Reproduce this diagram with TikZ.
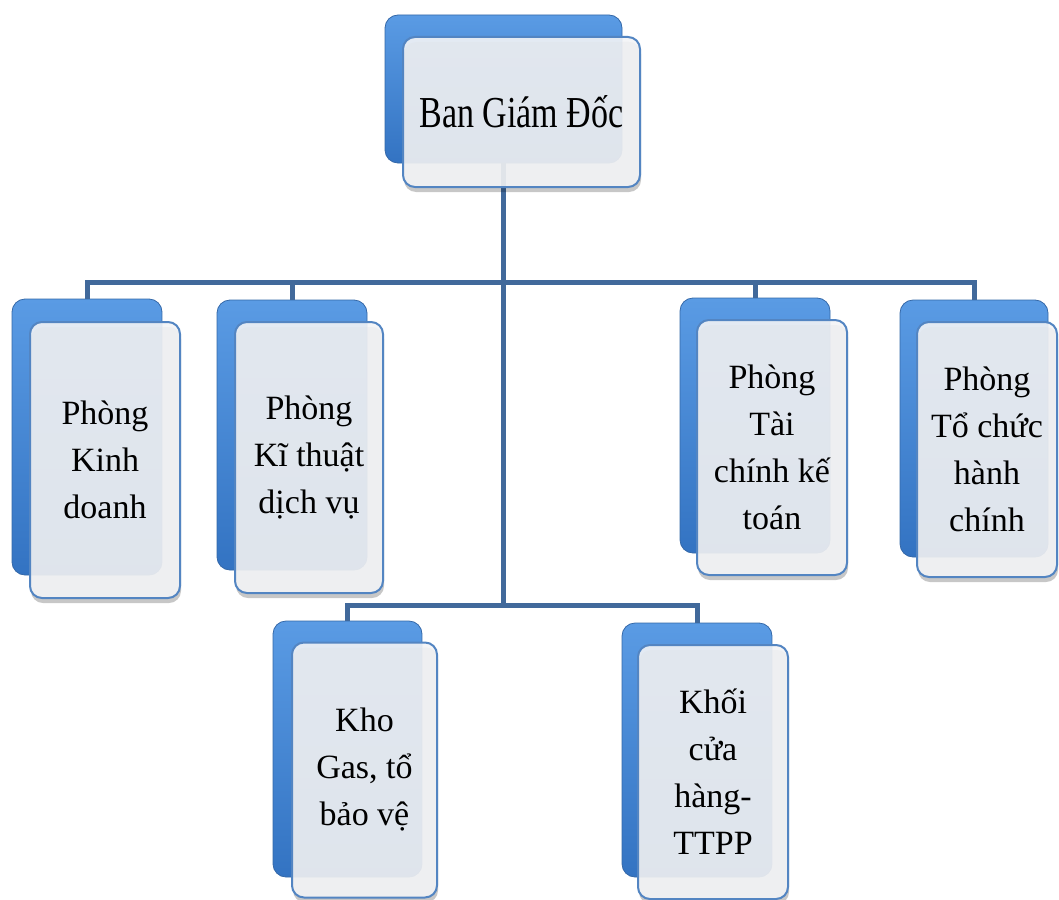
\documentclass[tikz,border=0pt]{standalone}
\usepackage{graphicx}
\usepackage{fontspec}
\setmainfont{Liberation Serif}
\usetikzlibrary{shadows}
\definecolor{backtop}{HTML}{5A9BE4}
\definecolor{backbot}{HTML}{3373C2}
\definecolor{backedge}{HTML}{3468A8}
\definecolor{frontfill}{HTML}{F3F4F6}
\definecolor{frontedge}{HTML}{5385C2}
\definecolor{connc}{HTML}{41699B}
\tikzset{
  backbox/.style={rounded corners=13pt, top color=backtop, bottom color=backbot,
    draw=backedge, line width=0.8pt, inner sep=0pt},
  frontbox/.style={rounded corners=12pt, fill=frontfill, fill opacity=0.9,
    text opacity=1, draw=frontedge, line width=2pt, inner sep=0pt, align=center,
    font=\fontsize{34}{47}\selectfont,
    drop shadow={shadow xshift=1pt, shadow yshift=-5pt, opacity=0.22, fill=black}},
  conn/.style={draw=connc, line width=5pt},
}
\begin{document}
\begin{tikzpicture}[x=1pt,y=-1pt]
\useasboundingbox (0,0) rectangle (1059,899);
% back boxes
\node[backbox, minimum width=237pt, minimum height=148pt] (b0) at (503.5,89) {};
\node[backbox, minimum width=150pt, minimum height=276pt] (b1) at (87,437) {};
\node[backbox, minimum width=150pt, minimum height=270pt] (b2) at (292,435) {};
\node[backbox, minimum width=150pt, minimum height=255pt] (b4) at (755,425.5) {};
\node[backbox, minimum width=148pt, minimum height=257pt] (b5) at (974,428.5) {};
\node[backbox, minimum width=149pt, minimum height=256pt] (b6) at (347.5,749) {};
\node[backbox, minimum width=150pt, minimum height=254pt] (b7) at (697,750) {};
% connectors
\coordinate (j1) at (503.5,282);
\coordinate (j2) at (503.5,605);
\draw[conn] (b0.south) -- (j2);
\draw[conn] (b1.north) |- (b5.north |- j1) -- (b5.north);
\draw[conn] (b2.north) -- (b2.north |- j1);
\draw[conn] (b4.north) -- (b4.north |- j1);
\draw[conn] (b6.north) |- (j2) -| (b7.north);
% front boxes
\node[frontbox, minimum width=237pt, minimum height=150pt] (f0) at (521.5,112) {\scalebox{1}[1.3]{Ban Giám Đốc}};
\node[frontbox, minimum width=150pt, minimum height=276pt] (f1) at (105,460) {Phòng\\Kinh\\doanh};
\node[frontbox, minimum width=148pt, minimum height=271pt] (f2) at (309,457.5) {Phòng\\Kĩ thuật\\dịch vụ};
\node[frontbox, minimum width=150pt, minimum height=255pt] (f4) at (772,447.5) {Phòng\\Tài\\chính kế\\toán};
\node[frontbox, minimum width=140pt, minimum height=255pt] (f5) at (987,449.5) {Phòng\\Tổ chức\\hành\\chính};
\node[frontbox, minimum width=145pt, minimum height=255pt] (f6) at (364.5,770) {Kho\\Gas, tổ\\bảo vệ};
\node[frontbox, minimum width=150pt, minimum height=254pt] (f7) at (713,772) {Khối\\cửa\\hàng-\\TTPP};
\end{tikzpicture}
\end{document}
